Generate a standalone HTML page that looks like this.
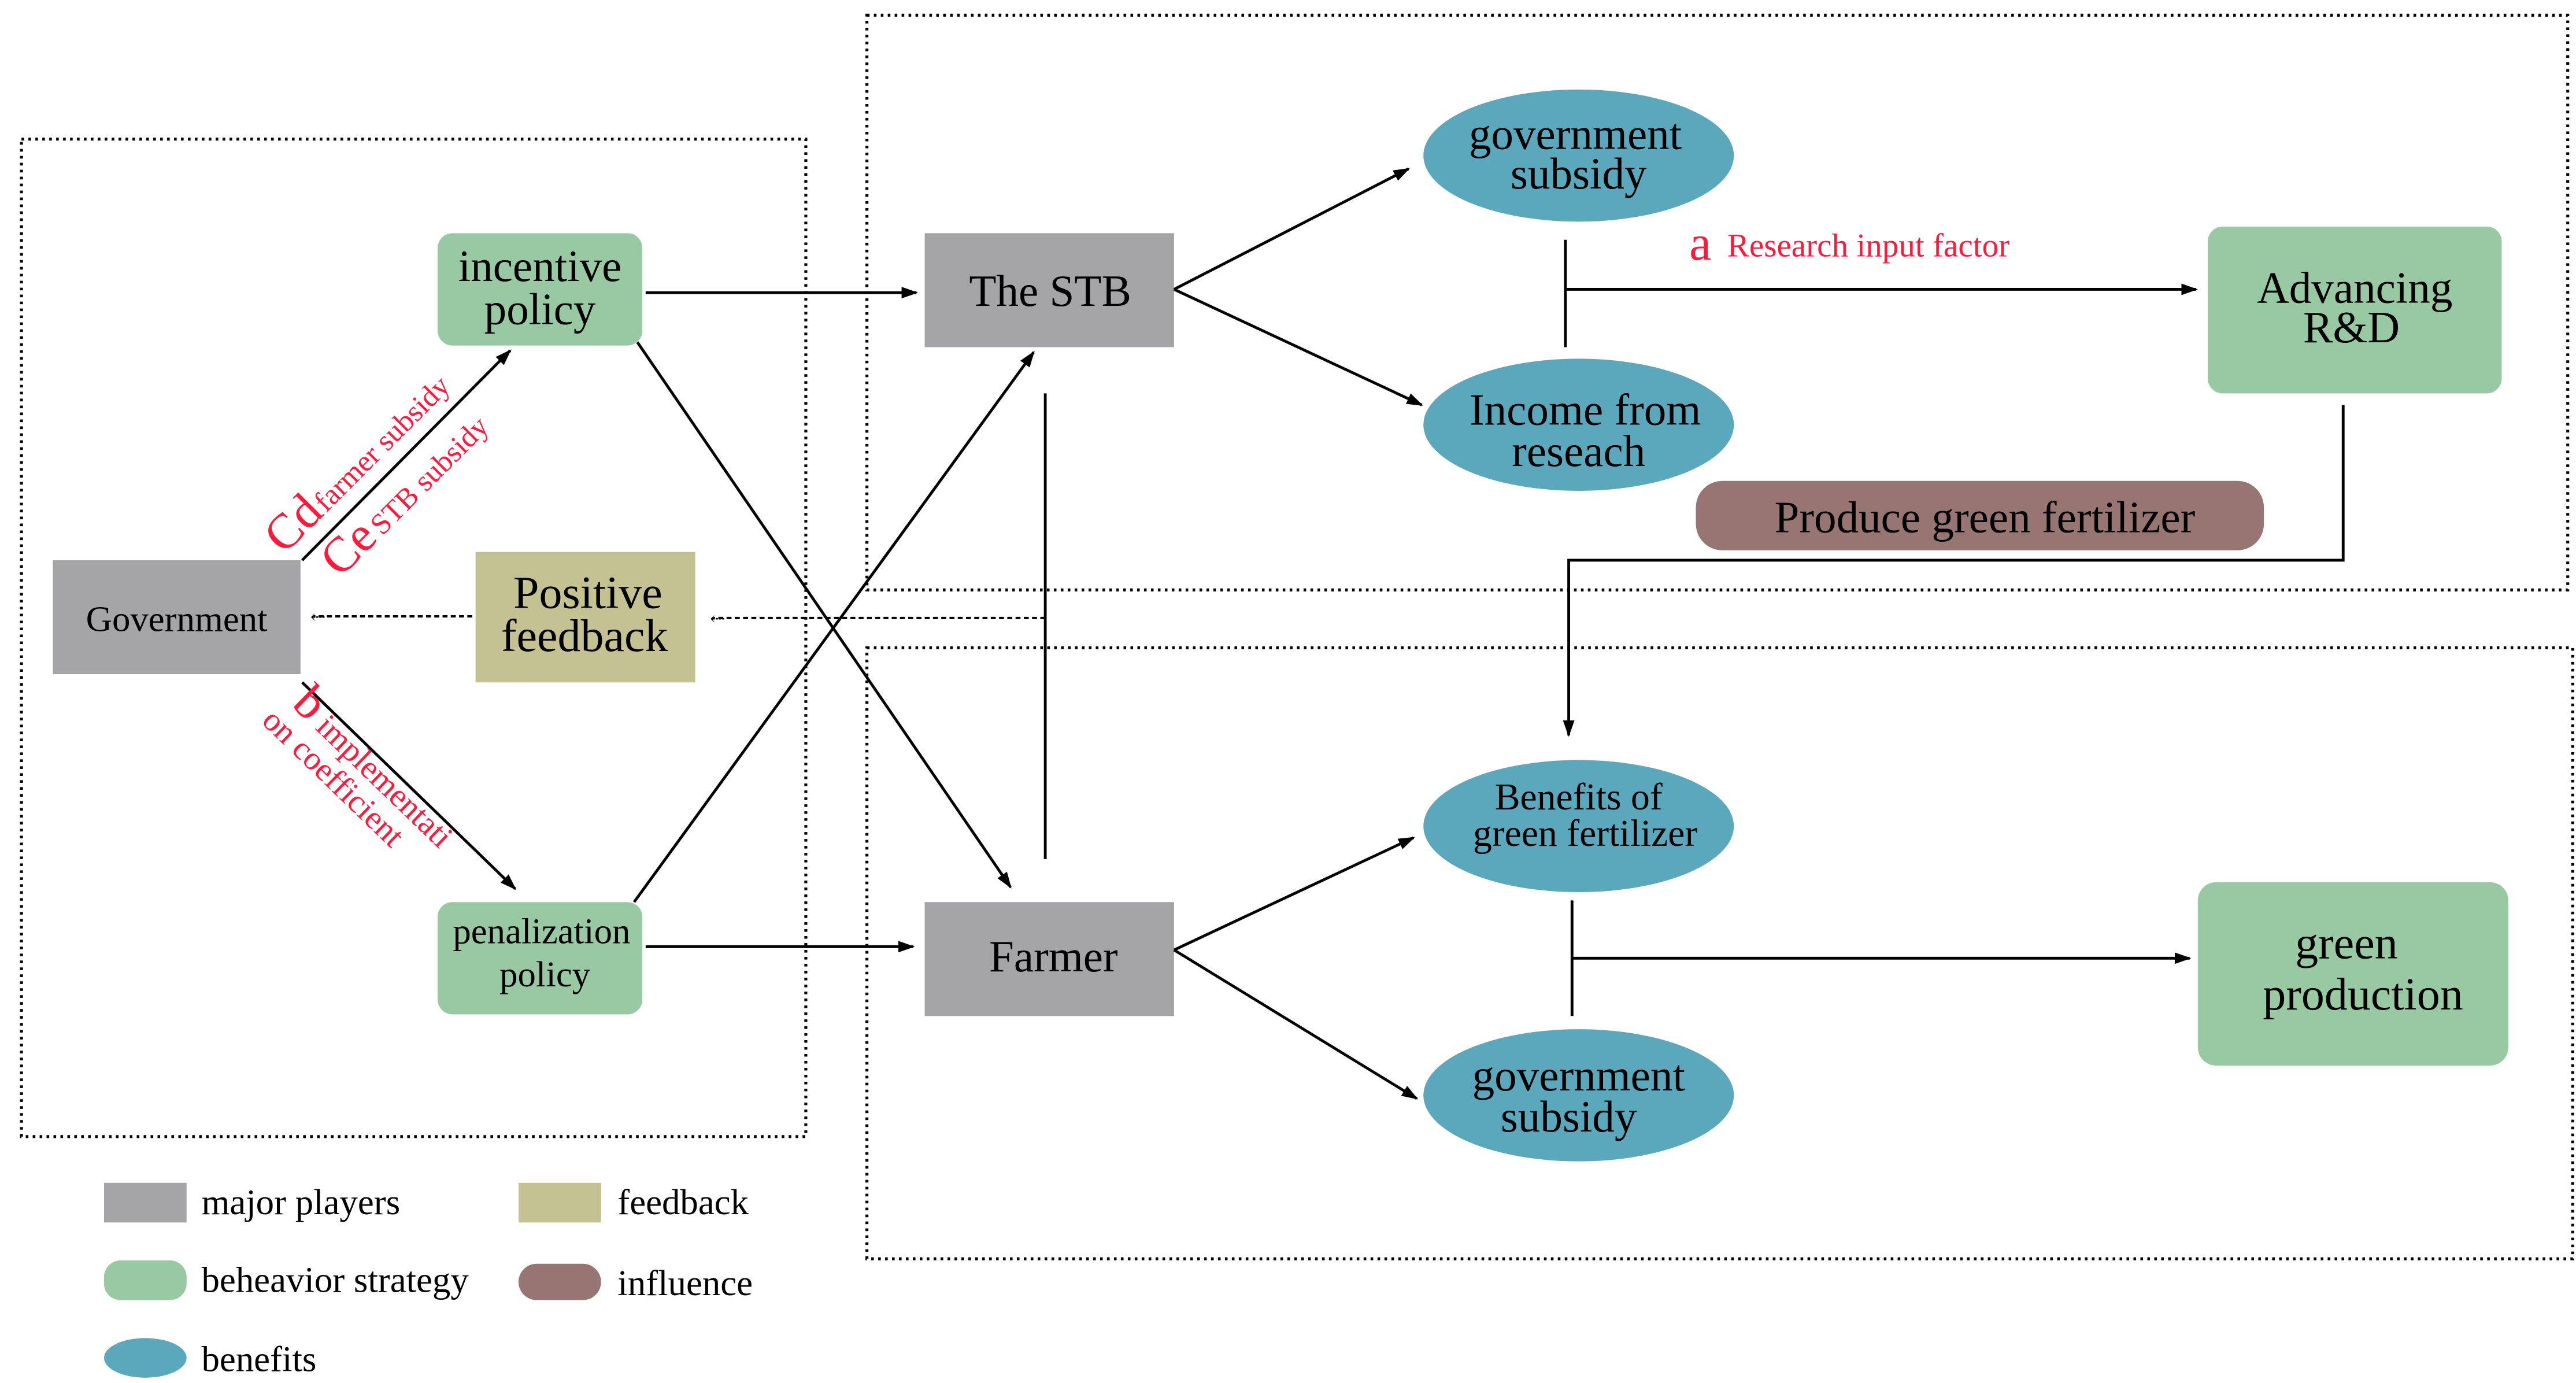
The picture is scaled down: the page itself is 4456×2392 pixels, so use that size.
<!DOCTYPE html>
<html><head><meta charset="utf-8"><style>
html,body{margin:0;padding:0;background:#fff;}
svg{display:block;}
</style></head><body>
<svg width="4456" height="2392" viewBox="0 0 1560 837" xmlns="http://www.w3.org/2000/svg" font-family="'Liberation Serif','DejaVu Serif',serif">
<defs>
<marker id="a" viewBox="0 0 10 10" refX="9" refY="5" markerWidth="10" markerHeight="10" orient="auto" markerUnits="userSpaceOnUse"><path d="M0,1.5 L10,5 L0,8.5 z" fill="#000"/></marker>
</defs>
<g fill="none" stroke="#000" stroke-width="1.8" stroke-dasharray="1.6 2.6">
<rect x="13" y="84" width="475" height="604"/>
<rect x="525" y="9" width="1030" height="348"/>
<rect x="525" y="392" width="1033" height="370"/>
</g>
<rect x="32" y="339" width="150" height="69" fill="#a5a5a7"/>
<text x="107" y="382" font-size="22" text-anchor="middle">Government</text>
<rect x="265" y="141" width="124" height="68" rx="9" fill="#98c9a3"/>
<text x="327" y="170" font-size="27" text-anchor="middle">incentive</text>
<text x="327" y="196" font-size="27" text-anchor="middle">policy</text>
<rect x="288" y="334" width="133" height="79" fill="#c4c193"/>
<text x="356" y="368" font-size="28" text-anchor="middle">Positive</text>
<text x="354" y="394" font-size="28" text-anchor="middle">feedback</text>
<rect x="265" y="546" width="124" height="68" rx="9" fill="#98c9a3"/>
<text x="328" y="571" font-size="22" text-anchor="middle">penalization</text>
<text x="330" y="597" font-size="22" text-anchor="middle">policy</text>
<rect x="560" y="141" width="151" height="69" fill="#a5a5a7"/>
<text x="636" y="185" font-size="27" text-anchor="middle">The STB</text>
<rect x="560" y="546" width="151" height="69" fill="#a5a5a7"/>
<text x="638" y="588" font-size="27" text-anchor="middle">Farmer</text>
<ellipse cx="956" cy="94" rx="94" ry="40" fill="#5ba8bd"/>
<text x="954" y="90" font-size="27" text-anchor="middle">government</text>
<text x="956" y="114" font-size="27" text-anchor="middle">subsidy</text>
<ellipse cx="956" cy="257" rx="94" ry="40" fill="#5ba8bd"/>
<text x="960" y="257" font-size="27" text-anchor="middle">Income from</text>
<text x="956" y="282" font-size="27" text-anchor="middle">reseach</text>
<rect x="1337" y="137" width="178" height="101" rx="9" fill="#98c9a3"/>
<text x="1426" y="183" font-size="27" text-anchor="middle">Advancing</text>
<text x="1424" y="207" font-size="27" text-anchor="middle">R&amp;D</text>
<rect x="1027" y="291" width="344" height="42" rx="16" fill="#967572"/>
<text x="1202" y="322" font-size="27" text-anchor="middle">Produce green fertilizer</text>
<ellipse cx="956" cy="500" rx="94" ry="40" fill="#5ba8bd"/>
<text x="956" y="490" font-size="23" text-anchor="middle">Benefits of</text>
<text x="960" y="512" font-size="23" text-anchor="middle">green fertilizer</text>
<ellipse cx="956" cy="663" rx="94" ry="40" fill="#5ba8bd"/>
<text x="956" y="660" font-size="27" text-anchor="middle">government</text>
<text x="950" y="685" font-size="27" text-anchor="middle">subsidy</text>
<rect x="1331" y="534" width="188" height="111" rx="11" fill="#98c9a3"/>
<text x="1421" y="580" font-size="28" text-anchor="middle">green</text>
<text x="1431" y="611" font-size="28" text-anchor="middle">production</text>
<g stroke="#000" stroke-width="1.7" fill="none">
<line x1="183" y1="339" x2="309" y2="212" marker-end="url(#a)"/>
<line x1="183" y1="413" x2="312" y2="538" marker-end="url(#a)"/>
<line x1="391" y1="177" x2="555" y2="177" marker-end="url(#a)"/>
<line x1="386" y1="207" x2="612" y2="537" marker-end="url(#a)"/>
<line x1="384" y1="546" x2="626" y2="213" marker-end="url(#a)"/>
<line x1="391" y1="573" x2="553" y2="573" marker-end="url(#a)"/>
<line x1="633" y1="238" x2="633" y2="520"/>
<line x1="711" y1="175" x2="853" y2="102" marker-end="url(#a)"/>
<line x1="711" y1="175" x2="861" y2="245" marker-end="url(#a)"/>
<line x1="948" y1="145" x2="948" y2="210"/>
<line x1="948" y1="175" x2="1330" y2="175" marker-end="url(#a)"/>
<polyline points="1419,245 1419,339 950,339 950,445" marker-end="url(#a)"/>
<line x1="711" y1="575" x2="856" y2="507" marker-end="url(#a)"/>
<line x1="711" y1="575" x2="858" y2="665" marker-end="url(#a)"/>
<line x1="952" y1="545" x2="952" y2="615"/>
<line x1="952" y1="580" x2="1326" y2="580" marker-end="url(#a)"/>
</g>
<g stroke="#000" stroke-width="1.4" stroke-dasharray="3 2" fill="none">
<line x1="633" y1="374" x2="432" y2="374"/>
<line x1="286" y1="373" x2="190" y2="373"/>
</g>
<text x="430" y="378" font-size="11">⇠</text>
<text x="188" y="377" font-size="11">⇠</text>
<g fill="#ff1a3c">
<text x="1023" y="157" font-size="30">a</text>
<text x="1046" y="155" font-size="20">Research input factor</text>
<g transform="translate(172,336) rotate(-45)"><text font-size="30">Cd</text><text x="36" y="0" font-size="18">farmer subsidy</text></g>
<g transform="translate(206,350) rotate(-45)"><text font-size="30">Ce</text><text x="36" y="0" font-size="18">STB subsidy</text></g>
<g transform="translate(176,427) rotate(44)"><text font-size="30">b</text><text x="20" y="0" font-size="20">implementati</text><text x="-6" y="20" font-size="20">on coefficient</text></g>
</g>
<rect x="63" y="716" width="50" height="24" fill="#a5a5a7"/>
<text x="122" y="735" font-size="22">major players</text>
<rect x="314" y="716" width="50" height="24" fill="#c4c193"/>
<text x="374" y="735" font-size="22">feedback</text>
<rect x="63" y="763" width="50" height="24" rx="10" fill="#98c9a3"/>
<text x="122" y="782" font-size="22">beheavior strategy</text>
<rect x="314" y="765" width="50" height="22" rx="11" fill="#967572"/>
<text x="374" y="784" font-size="22">influence</text>
<ellipse cx="88" cy="822" rx="25" ry="12" fill="#5ba8bd"/>
<text x="122" y="830" font-size="22">benefits</text>
</svg>
</body></html>
